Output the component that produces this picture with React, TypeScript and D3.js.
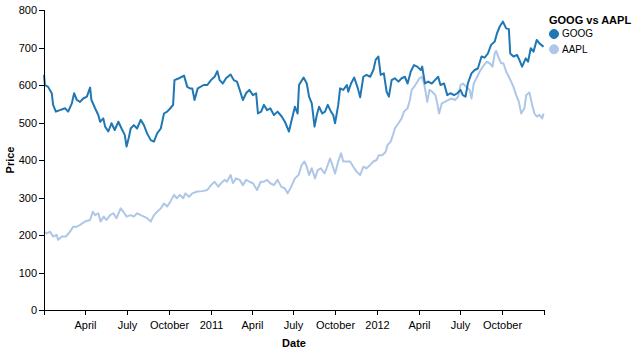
import React from "react";
import * as d3 from "d3";

const SERIES_NAMES = ["GOOG", "AAPL"];
const SERIES_COLORS = ["#1f77b4", "#aec7e8"];
const Y_TICKS = [0, 100, 200, 300, 400, 500, 600, 700, 800];
const X_DOMAIN = ["2010-01-01", "2013-01-01"];

const GOOG: [string, number][] = [
  ["2010-01-01", 627], ["2010-01-03", 600], ["2010-01-10", 595], ["2010-01-18", 578], ["2010-01-21", 547],
  ["2010-01-27", 529], ["2010-02-05", 533], ["2010-02-16", 538], ["2010-02-23", 529], ["2010-03-03", 551],
  ["2010-03-08", 578], ["2010-03-14", 560], ["2010-03-21", 555], ["2010-03-28", 564], ["2010-04-05", 569],
  ["2010-04-12", 593], ["2010-04-15", 560], ["2010-04-23", 538], ["2010-04-30", 520], ["2010-05-04", 502],
  ["2010-05-11", 511], ["2010-05-15", 489], ["2010-05-22", 476], ["2010-05-29", 498], ["2010-06-05", 480],
  ["2010-06-13", 502], ["2010-06-20", 484], ["2010-06-27", 467], ["2010-07-01", 436], ["2010-07-06", 460],
  ["2010-07-10", 484], ["2010-07-17", 493], ["2010-07-24", 484], ["2010-08-01", 507], ["2010-08-08", 493],
  ["2010-08-15", 471], ["2010-08-23", 453], ["2010-08-30", 449], ["2010-09-06", 471], ["2010-09-14", 484],
  ["2010-09-21", 524], ["2010-09-28", 529], ["2010-10-05", 538], ["2010-10-11", 547], ["2010-10-14", 613],
  ["2010-10-24", 618], ["2010-11-04", 625], ["2010-11-11", 595], ["2010-11-17", 591], ["2010-11-22", 591],
  ["2010-11-27", 560], ["2010-12-04", 591], ["2010-12-17", 600], ["2010-12-25", 600], ["2011-01-02", 613],
  ["2011-01-10", 622], ["2011-01-16", 637], ["2011-01-21", 613], ["2011-01-28", 604], ["2011-02-04", 618],
  ["2011-02-14", 628], ["2011-02-21", 613], ["2011-02-28", 609], ["2011-03-06", 587], ["2011-03-13", 560],
  ["2011-03-20", 578], ["2011-03-27", 587], ["2011-04-04", 573], ["2011-04-11", 578], ["2011-04-15", 524],
  ["2011-04-22", 529], ["2011-04-28", 547], ["2011-05-05", 533], ["2011-05-12", 538], ["2011-05-20", 520],
  ["2011-05-28", 529], ["2011-06-06", 516], ["2011-06-13", 502], ["2011-06-22", 476], ["2011-06-27", 502],
  ["2011-07-05", 542], ["2011-07-11", 524], ["2011-07-14", 600], ["2011-07-24", 620], ["2011-07-31", 604],
  ["2011-08-05", 569], ["2011-08-11", 551], ["2011-08-17", 489], ["2011-08-22", 520], ["2011-08-27", 542],
  ["2011-09-03", 524], ["2011-09-09", 529], ["2011-09-15", 547], ["2011-09-22", 529], ["2011-09-27", 520],
  ["2011-10-01", 498], ["2011-10-08", 547], ["2011-10-12", 591], ["2011-10-19", 587], ["2011-10-27", 600],
  ["2011-10-30", 582], ["2011-11-05", 604], ["2011-11-12", 620], ["2011-11-20", 591], ["2011-11-25", 567],
  ["2011-12-02", 622], ["2011-12-09", 627], ["2011-12-17", 622], ["2011-12-24", 640], ["2011-12-29", 667],
  ["2012-01-04", 676], ["2012-01-09", 627], ["2012-01-16", 631], ["2012-01-22", 582], ["2012-01-27", 569],
  ["2012-02-02", 613], ["2012-02-09", 618], ["2012-02-17", 609], ["2012-02-24", 618], ["2012-03-02", 622],
  ["2012-03-08", 604], ["2012-03-15", 636], ["2012-03-22", 653], ["2012-03-29", 649], ["2012-04-06", 640],
  ["2012-04-09", 649], ["2012-04-15", 604], ["2012-04-22", 609], ["2012-04-30", 604], ["2012-05-07", 613],
  ["2012-05-14", 622], ["2012-05-19", 600], ["2012-05-27", 604], ["2012-06-03", 573], ["2012-06-10", 578],
  ["2012-06-18", 573], ["2012-06-25", 578], ["2012-07-02", 587], ["2012-07-07", 573], ["2012-07-13", 569],
  ["2012-07-18", 604], ["2012-07-26", 631], ["2012-08-02", 640], ["2012-08-09", 644], ["2012-08-17", 676],
  ["2012-08-24", 673], ["2012-08-31", 684], ["2012-09-07", 707], ["2012-09-15", 716], ["2012-09-20", 738],
  ["2012-09-26", 756], ["2012-10-03", 769], ["2012-10-10", 751], ["2012-10-16", 749], ["2012-10-19", 684],
  ["2012-10-26", 676], ["2012-11-03", 680], ["2012-11-08", 667], ["2012-11-14", 649], ["2012-11-22", 671],
  ["2012-11-27", 662], ["2012-12-03", 698], ["2012-12-09", 689], ["2012-12-16", 720], ["2012-12-22", 711],
  ["2012-12-28", 705], ["2012-12-31", 702],
];

const AAPL: [string, number][] = [
  ["2010-01-01", 209], ["2010-01-07", 204], ["2010-01-14", 209], ["2010-01-21", 196], ["2010-01-29", 200],
  ["2010-02-01", 187], ["2010-02-09", 196], ["2010-02-18", 196], ["2010-02-27", 209], ["2010-03-06", 222],
  ["2010-03-14", 222], ["2010-03-21", 227], ["2010-04-01", 236], ["2010-04-12", 240], ["2010-04-18", 262],
  ["2010-04-23", 253], ["2010-04-30", 258], ["2010-05-05", 236], ["2010-05-12", 249], ["2010-05-18", 240],
  ["2010-05-26", 253], ["2010-06-02", 258], ["2010-06-09", 245], ["2010-06-18", 271], ["2010-06-24", 262],
  ["2010-07-01", 249], ["2010-07-10", 253], ["2010-07-17", 249], ["2010-07-24", 258], ["2010-08-01", 253],
  ["2010-08-08", 249], ["2010-08-15", 245], ["2010-08-23", 236], ["2010-08-30", 253], ["2010-09-06", 262],
  ["2010-09-14", 271], ["2010-09-21", 284], ["2010-09-28", 276], ["2010-10-05", 289], ["2010-10-13", 307],
  ["2010-10-19", 298], ["2010-10-26", 307], ["2010-11-02", 298], ["2010-11-07", 311], ["2010-11-15", 302],
  ["2010-11-22", 311], ["2010-12-03", 316], ["2010-12-14", 317], ["2010-12-25", 320], ["2011-01-02", 333],
  ["2011-01-10", 342], ["2011-01-18", 329], ["2011-01-24", 338], ["2011-02-01", 347], ["2011-02-06", 342],
  ["2011-02-14", 360], ["2011-02-19", 338], ["2011-02-26", 351], ["2011-03-06", 347], ["2011-03-13", 333],
  ["2011-03-20", 347], ["2011-03-27", 342], ["2011-04-04", 338], ["2011-04-13", 320], ["2011-04-21", 342],
  ["2011-04-28", 342], ["2011-05-05", 347], ["2011-05-12", 338], ["2011-05-20", 333], ["2011-05-28", 347],
  ["2011-06-05", 329], ["2011-06-13", 324], ["2011-06-19", 311], ["2011-06-27", 329], ["2011-07-05", 351],
  ["2011-07-13", 360], ["2011-07-20", 387], ["2011-07-26", 396], ["2011-07-31", 382], ["2011-08-05", 360],
  ["2011-08-11", 378], ["2011-08-18", 351], ["2011-08-24", 373], ["2011-08-31", 378], ["2011-09-08", 364],
  ["2011-09-15", 387], ["2011-09-20", 404], ["2011-09-25", 387], ["2011-10-01", 364], ["2011-10-08", 396],
  ["2011-10-14", 418], ["2011-10-19", 396], ["2011-10-27", 396], ["2011-11-03", 396], ["2011-11-10", 382],
  ["2011-11-17", 369], ["2011-11-25", 360], ["2011-12-02", 382], ["2011-12-09", 378], ["2011-12-17", 387],
  ["2011-12-24", 396], ["2011-12-31", 400], ["2012-01-05", 413], ["2012-01-13", 413], ["2012-01-20", 422],
  ["2012-01-24", 440], ["2012-01-31", 449], ["2012-02-05", 467], ["2012-02-09", 484], ["2012-02-17", 498],
  ["2012-02-24", 511], ["2012-02-29", 529], ["2012-03-08", 538], ["2012-03-13", 560], ["2012-03-17", 587],
  ["2012-03-22", 595], ["2012-03-27", 604], ["2012-04-03", 618], ["2012-04-08", 622], ["2012-04-13", 604],
  ["2012-04-17", 578], ["2012-04-20", 555], ["2012-04-25", 587], ["2012-05-01", 582], ["2012-05-08", 573],
  ["2012-05-12", 551], ["2012-05-16", 524], ["2012-05-22", 551], ["2012-05-29", 555], ["2012-06-05", 560],
  ["2012-06-13", 564], ["2012-06-20", 560], ["2012-06-27", 569], ["2012-07-02", 600], ["2012-07-07", 604],
  ["2012-07-15", 595], ["2012-07-22", 587], ["2012-07-26", 564], ["2012-07-31", 604], ["2012-08-06", 618],
  ["2012-08-13", 636], ["2012-08-20", 649], ["2012-08-28", 662], ["2012-09-04", 658], ["2012-09-10", 649],
  ["2012-09-15", 684], ["2012-09-18", 691], ["2012-09-24", 671], ["2012-09-29", 658], ["2012-10-04", 658],
  ["2012-10-10", 636], ["2012-10-16", 622], ["2012-10-21", 609], ["2012-10-26", 595], ["2012-11-01", 573],
  ["2012-11-07", 555], ["2012-11-12", 524], ["2012-11-19", 538], ["2012-11-23", 573], ["2012-11-30", 580],
  ["2012-12-06", 547], ["2012-12-11", 524], ["2012-12-16", 516], ["2012-12-22", 520], ["2012-12-28", 511],
  ["2012-12-31", 524],
];

const SERIES_DATA = [GOOG, AAPL];

const WIDTH = 642;
const HEIGHT = 356;
const M = { left: 44, top: 10, width: 500, height: 300 };
const FONT = "'Liberation Sans', Arial, Helvetica, sans-serif";

export default function App() {
  const parse = d3.utcParse("%Y-%m-%d");
  const x = d3
    .scaleUtc()
    .domain(X_DOMAIN.map((s) => parse(s) as Date))
    .range([M.left, M.left + M.width]);
  const y = d3.scaleLinear().domain([0, 800]).range([M.top + M.height, M.top]);

  const xTicks = d3.utcMonth.every(3)!.range(
    parse(X_DOMAIN[0]) as Date,
    d3.utcDay.offset(parse(X_DOMAIN[1]) as Date, 1)
  );
  const fmt = (d: Date) =>
    d.getUTCMonth() === 0 ? d3.utcFormat("%Y")(d) : d3.utcFormat("%B")(d);

  const line = d3
    .line<[string, number]>()
    .x((d) => x(parse(d[0]) as Date))
    .y((d) => y(d[1]));

  const x0 = M.left;
  const x1 = M.left + M.width;
  const yb = M.top + M.height;

  return (
    <svg
      width={WIDTH}
      height={HEIGHT}
      style={{ position: "absolute", left: 0, top: 0, background: "#fff" }}
      fontFamily={FONT}
    >
      {/* lines */}
      {SERIES_DATA.map((data, i) => (
        <path
          key={SERIES_NAMES[i]}
          d={line(data) || ""}
          fill="none"
          stroke={SERIES_COLORS[i]}
          strokeWidth={2}
          strokeLinejoin="round"
        />
      )).reverse()}

      {/* y axis */}
      <g>
        <line x1={x0 + 0.5} x2={x0 + 0.5} y1={M.top} y2={yb} stroke="#000" />
        {Y_TICKS.map((t) => (
          <g key={t} transform={`translate(0,${Math.round(y(t)) + 0.5})`}>
            <line x1={x0 - 5} x2={x0} stroke="#000" />
            <text x={x0 - 7} dy="0.32em" textAnchor="end" fontSize={11} fill="#000">
              {t}
            </text>
          </g>
        ))}
        <text
          transform={`translate(14,${M.top + M.height / 2}) rotate(-90)`}
          textAnchor="middle"
          fontSize={11}
          fontWeight="bold"
          fill="#000"
        >
          Price
        </text>
      </g>

      {/* x axis */}
      <g>
        <line x1={x0} x2={x1 + 0.5} y1={yb + 0.5} y2={yb + 0.5} stroke="#000" />
        {xTicks.map((t, i) => {
          const px = Math.round(x(t)) + 0.5;
          const showLabel = i > 0 && i < xTicks.length - 1;
          return (
            <g key={i} transform={`translate(${px},0)`}>
              <line y1={yb} y2={yb + 5} stroke="#000" />
              {showLabel && (
                <text y={yb + 19} textAnchor="middle" fontSize={11} fill="#000">
                  {fmt(t)}
                </text>
              )}
            </g>
          );
        })}
        <text
          x={M.left + M.width / 2}
          y={yb + 37}
          textAnchor="middle"
          fontSize={11}
          fontWeight="bold"
          fill="#000"
        >
          Date
        </text>
      </g>

      {/* legend */}
      <g>
        <text x={549} y={24} fontSize={11} fontWeight="bold" fill="#000">
          GOOG vs AAPL
        </text>
        {SERIES_NAMES.map((name, i) => (
          <g key={name} transform={`translate(554,${34 + i * 15.3})`}>
            <circle r={4.5} fill={SERIES_COLORS[i]} stroke={SERIES_COLORS[i]} strokeWidth={1} />
            <text x={8} dy="0.34em" fontSize={10} fill="#000">
              {name}
            </text>
          </g>
        ))}
      </g>
    </svg>
  );
}
